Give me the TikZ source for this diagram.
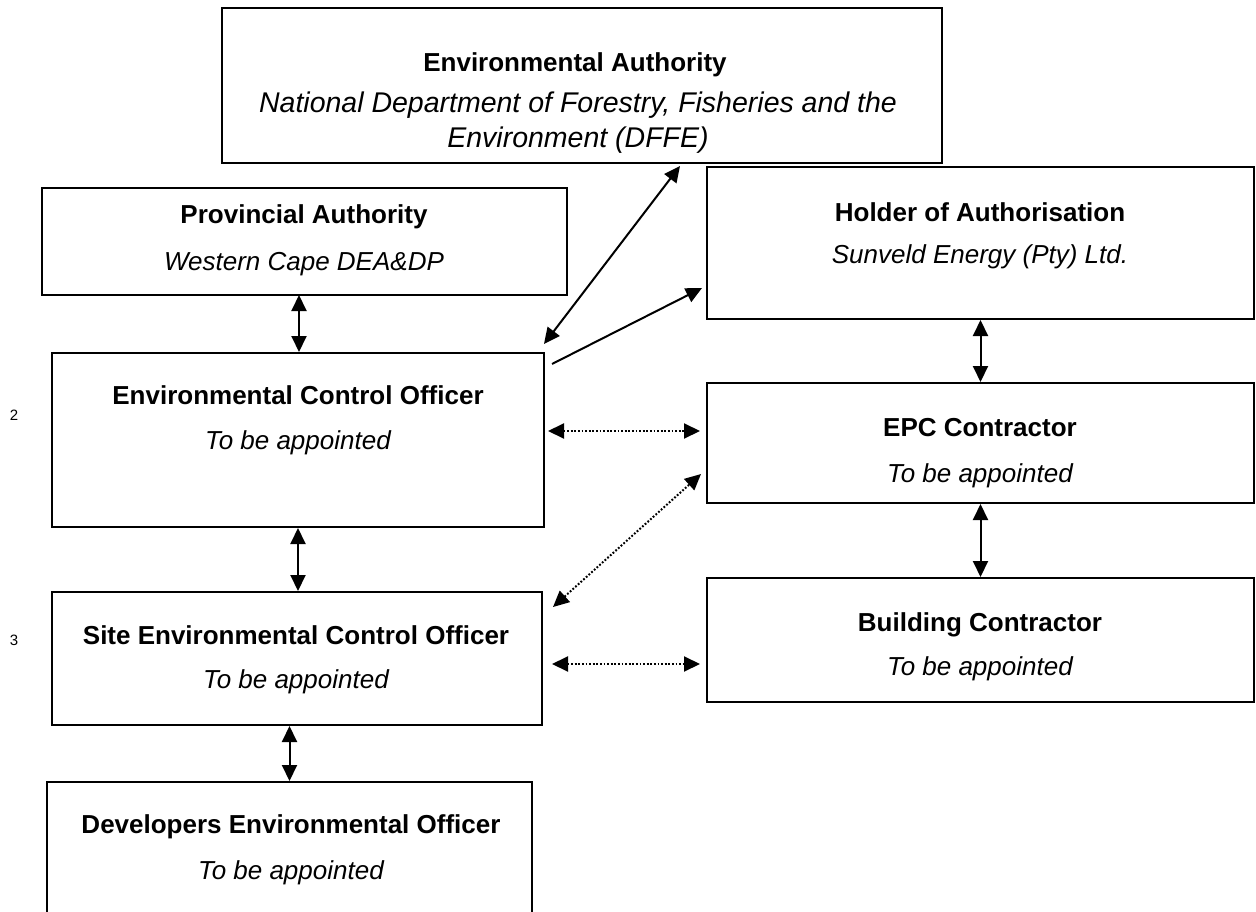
\documentclass[tikz,border=0pt]{standalone}
\usepackage{fontspec}
\setmainfont{Liberation Sans}
\usetikzlibrary{arrows.meta}
\begin{document}
\begin{tikzpicture}[x=1pt,y=-1pt,
 box/.style={draw,line width=2pt,rectangle,inner sep=0pt},
 ttl/.style={font=\fontsize{26}{30}\selectfont\bfseries,inner sep=0pt,anchor=base},
 sub/.style={font=\fontsize{26}{30}\selectfont\itshape,inner sep=0pt,anchor=base},
 bigsub/.style={font=\fontsize{28.5}{33}\selectfont\itshape,inner sep=0pt,anchor=base},
 tip/.tip={Triangle[length=16pt,width=15pt]},
 conn/.style={line width=2pt,tip-tip},
 oneway/.style={line width=2pt,-tip},
 dconn/.style={conn,dash pattern=on 1.8pt off 1.8pt},
 num/.style={font=\fontsize{15}{18}\selectfont,inner sep=0pt}]
\clip (0,0) rectangle (1256,912);
\fill[white] (0,0) rectangle (1256,912);

% boxes
\node[box,minimum width=720pt,minimum height=155pt] (ea) at (582,85.5) {};
\node[box,minimum width=525pt,minimum height=107pt] (pa) at (304.5,241.5) {};
\node[box,minimum width=547pt,minimum height=152pt] (hoa) at (980.5,243) {};
\node[box,minimum width=492pt,minimum height=174pt] (eco) at (298,440) {};
\node[box,minimum width=547pt,minimum height=120pt] (epc) at (980.5,443) {};
\node[box,minimum width=490pt,minimum height=133pt] (seco) at (297,658.5) {};
\node[box,minimum width=547pt,minimum height=124pt] (bc) at (980.5,640) {};
\node[box,minimum width=485pt,minimum height=150pt] (deo) at (289.5,857) {};

% texts
\node[ttl] (eat) at (575,72) {Environmental Authority};
\node[bigsub] (eas1) at (578,113) {National Department of Forestry, Fisheries and the};
\node[bigsub] (eas2) at (578,148) {Environment (DFFE)};
\node[ttl] (pat) at (304,224) {Provincial Authority};
\node[sub] (pas) at (304,270) {Western Cape DEA\&DP};
\node[ttl] (hoat) at (980,222) {Holder of Authorisation};
\node[sub] (hoas) at (980,264) {Sunveld Energy (Pty) Ltd.};
\node[ttl] (ecot) at (298,404) {Environmental Control Officer};
\node[sub] (ecos) at (298,449) {To be appointed};
\node[ttl] (epct) at (980,436) {EPC Contractor};
\node[sub] (epcs) at (980,482) {To be appointed};
\node[ttl] (secot) at (296,644) {Site Environmental Control Officer};
\node[sub] (secos) at (296,688) {To be appointed};
\node[ttl] (bct) at (980,631) {Building Contractor};
\node[sub] (bcs) at (980,675) {To be appointed};
\node[ttl] (deot) at (291,833) {Developers Environmental Officer};
\node[sub] (deos) at (291,879) {To be appointed};

\node[num] (n2) at (14,415) {2};
\node[num] (n3) at (14,640) {3};

% floating connector ends
\coordinate (a1) at (544,344);
\coordinate (a2) at (680,166);
\coordinate (b1) at (552,364);
\coordinate (b2) at (702,288);
\coordinate (c1) at (548,431);
\coordinate (c2) at (700,431);
\coordinate (d1) at (553,607);
\coordinate (d2) at (701,474);
\coordinate (e1) at (552,664);
\coordinate (e2) at (700,664);

% connectors
\draw[conn] (299,295) coordinate (pab) -- (eco.north -| pab);
\draw[conn] (eco.south) -- (eco.south |- seco.north);
\draw[conn] (deo.north |- seco.south) -- (deo.north);
\draw[conn] (hoa.south) -- (epc.north);
\draw[conn] (epc.south) -- (bc.north);
\draw[conn] (a1) -- (a2);
\draw[oneway] (b1) -- (b2);
\draw[dconn] (c1) -- (c2);
\draw[dconn] (d1) -- (d2);
\draw[dconn] (e1) -- (e2);
\end{tikzpicture}
\end{document}
